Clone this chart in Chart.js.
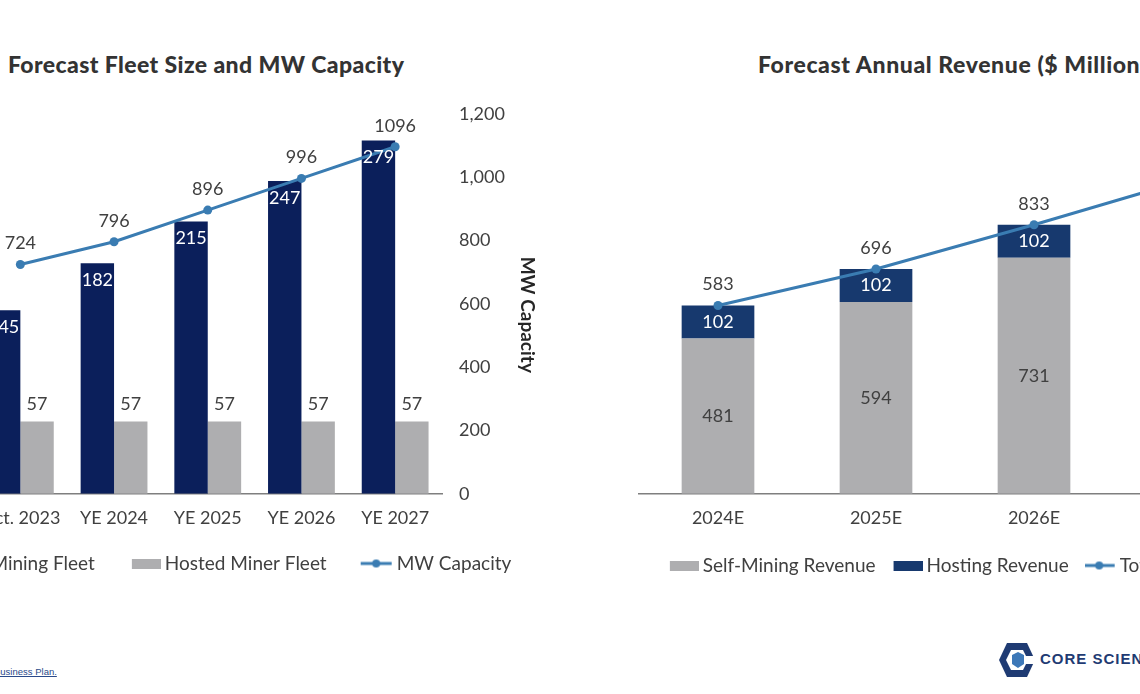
<!DOCTYPE html>
<html><head><meta charset="utf-8">
<script src="https://cdn.jsdelivr.net/npm/chart.js@4/dist/chart.umd.min.js"></script>
<style>
html,body{margin:0;padding:0;background:#fff;}
#stage{position:relative;width:1140px;height:694px;overflow:hidden;background:#fff;font-family:Lato,sans-serif;}
canvas{position:absolute;}
#c1{left:-226px;top:86px;}
#c2{left:620px;top:86px;}
.title{position:absolute;font-family:Lato,sans-serif;font-weight:900;font-size:23px;letter-spacing:0.4px;color:#333;white-space:nowrap;line-height:23px;}
#t1{left:8px;top:53px;}
#t2{left:758px;top:53px;letter-spacing:0.6px;}
#foot{position:absolute;left:-6px;top:666px;font-family:"Liberation Sans",Arial,sans-serif;font-size:9.5px;color:#2a4a8a;text-decoration:underline;white-space:nowrap;}
#logo{position:absolute;left:998px;top:642px;}
#logotext{position:absolute;left:1040px;top:650px;font-family:"Liberation Sans",Arial,sans-serif;font-weight:700;font-size:15px;letter-spacing:1px;color:#1f3b73;white-space:nowrap;line-height:18px;}
</style></head>
<body>
<div id="stage">
  <div class="title" id="t1">Forecast Fleet Size and MW Capacity</div>
  <div class="title" id="t2">Forecast Annual Revenue ($ Millions)</div>
  <canvas id="c1" width="868" height="497"></canvas>
  <canvas id="c2" width="670" height="499"></canvas>
  <div id="foot">Business Plan.</div>
  <svg id="logo" width="38" height="36" viewBox="0 0 38 36">
    <polygon points="9,1 29,1 37,18 29,35 9,35 1,18" fill="#1f3b73"/>
    <polygon points="13,8 25,8 30,18 25,28 13,28 8,18" fill="#fff"/>
    <rect x="27" y="14" width="11" height="8" fill="#fff"/>
    <polygon points="14,13 20,10 26,13 26,22 20,26 14,22" fill="#3d78b8"/>
  </svg>
  <div id="logotext">CORE SCIENTIFIC</div>
</div>
<script>
// ---------- data ----------
const fleetCategories = ['Oct. 2023', 'YE 2024', 'YE 2025', 'YE 2026', 'YE 2027'];
const selfMiningFleet = [145, 182, 215, 247, 279];
const hostedMinerFleet = [57, 57, 57, 57, 57];
const mwCapacity = [724, 796, 896, 996, 1096];

const revenueCategories = ['2024E', '2025E', '2026E', '2027E'];
const selfMiningRevenue = [481, 594, 731, 875];
const hostingRevenue = [102, 102, 102, 102];
const totalRevenue = [583, 696, 833, 977];

const mwTicks = [0, 200, 400, 600, 800, 1000, 1200];

// ---------- styles ----------
const NAVY_L = '#0b1f5b';
const NAVY_R = '#17396e';
const GRAY = '#aeaeb0';
const LINE = '#3a7cb2';
const TXT = '#404040';

Chart.defaults.font.family = 'Lato, sans-serif';
Chart.defaults.color = TXT;

// legend swatch: visible part sits at the right end of the image, next to the text
function swatch(kind, color, bw) {
  const W = bw + 11;
  const c = document.createElement('canvas');
  c.width = W; c.height = 10;
  const g = c.getContext('2d');
  if (kind === 'box') {
    g.fillStyle = color; g.fillRect(W - 29, 0, 29, 10);
  } else {
    g.strokeStyle = color; g.lineWidth = 3;
    g.beginPath(); g.moveTo(W - 32, 5); g.lineTo(W - 1, 5); g.stroke();
    g.fillStyle = color; g.beginPath(); g.arc(W - 16.5, 5, 4, 0, Math.PI * 2); g.fill();
  }
  return c;
}

const valueLabels = {
  id: 'valueLabels',
  afterDatasetsDraw(chart) {
    const ctx = chart.ctx;
    ctx.save();
    ctx.font = '18px Lato, sans-serif';
    ctx.textAlign = 'center';
    ctx.textBaseline = 'middle';
    chart.data.datasets.forEach((ds, i) => {
      const meta = chart.getDatasetMeta(i);
      if (meta.hidden || !ds.labelMode) return;
      meta.data.forEach((el, j) => {
        const v = ds.data[j];
        let y;
        if (ds.labelMode === 'insideTop') y = el.y + ds.labelOffset;
        else if (ds.labelMode === 'above') y = el.y - ds.labelOffset;
        else y = (el.y + el.base) / 2;
        ctx.fillStyle = ds.labelColor;
        ctx.fillText(String(v), el.x, y);
      });
    });
    ctx.restore();
  }
};

// vertical axis title drawn beside the right axis
const sideTitle = {
  id: 'sideTitle',
  afterDraw(chart, args, opts) {
    if (!opts || !opts.text) return;
    const a = chart.chartArea;
    const ctx = chart.ctx;
    ctx.save();
    ctx.translate(a.right + opts.dx, (a.top + a.bottom) / 2 + opts.dy);
    ctx.rotate(Math.PI / 2);
    ctx.font = opts.font;
    ctx.fillStyle = opts.color;
    ctx.textAlign = 'center';
    ctx.textBaseline = 'middle';
    ctx.fillText(opts.text, 0, 0);
    ctx.restore();
  }
};

function legendOpts(order, padding, bw) {
  return {
    position: 'bottom',
    labels: {
      usePointStyle: true,
      pointStyleWidth: bw,
      boxHeight: 10,
      padding: padding,
      font: { size: 19 },
      color: TXT,
      generateLabels: (chart) => order.map(i => {
        const ds = chart.data.datasets[i];
        return {
          text: ds.label,
          pointStyle: swatch(ds.legendKind, ds.legendColor, bw),
          datasetIndex: i,
          fontColor: TXT,
          lineWidth: 0,
          hidden: false
        };
      })
    }
  };
}

// ---------- left chart ----------
new Chart(document.getElementById('c1'), {
  type: 'bar',
  data: {
    labels: fleetCategories,
    datasets: [
      {
        type: 'line', label: 'MW Capacity', data: mwCapacity, yAxisID: 'y1',
        borderColor: LINE, backgroundColor: LINE, borderWidth: 3,
        pointRadius: 4.5, pointBackgroundColor: LINE, pointBorderWidth: 0,
        labelMode: 'above', labelOffset: 21, labelColor: TXT, legendKind: 'line', legendColor: LINE
      },
      {
        label: 'Self-Mining Fleet', data: selfMiningFleet, yAxisID: 'y',
        backgroundColor: NAVY_L, barPercentage: 1, categoryPercentage: 0.713,
        labelMode: 'insideTop', labelOffset: 17, labelColor: '#ffffff', legendKind: 'box', legendColor: NAVY_L
      },
      {
        label: 'Hosted Miner Fleet', data: hostedMinerFleet, yAxisID: 'y',
        backgroundColor: GRAY, barPercentage: 1, categoryPercentage: 0.713,
        labelMode: 'above', labelOffset: 17, labelColor: TXT, legendKind: 'box', legendColor: GRAY
      }
    ]
  },
  options: {
    responsive: false, animation: false,
    layout: { padding: { top: 24, bottom: 0, left: 0, right: 0 } },
    plugins: {
      legend: legendOpts([1, 2, 0], 22.5, 38),
      tooltip: { enabled: false },
      sideTitle: { text: 'MW Capacity', dx: 85, dy: 11, font: 'bold 19px Lato, sans-serif', color: '#262626' }
    },
    scales: {
      x: {
        grid: { display: false, drawTicks: false },
        border: { display: true, color: '#7f7f7f', width: 1.5 },
        ticks: { font: { size: 18 }, color: TXT, padding: 14, maxRotation: 0 },
        afterFit: (s) => { s.height = 37.7; }
      },
      y: {
        position: 'left', min: 0, max: 300,
        grid: { display: false, drawTicks: false }, border: { display: false },
        ticks: { display: false },
        afterFit: (s) => { s.width = 199.5; }
      },
      y1: {
        position: 'right', min: 0, max: 1200,
        grid: { display: false, drawTicks: false }, border: { display: false },
        afterBuildTicks: (s) => { s.ticks = mwTicks.map(v => ({ value: v })); },
        ticks: { font: { size: 18 }, color: TXT, padding: 17, callback: (v) => Number(v).toLocaleString('en-US') },
        afterFit: (s) => { s.width = 200; }
      }
    }
  },
  plugins: [valueLabels, sideTitle]
});

// ---------- right chart ----------
new Chart(document.getElementById('c2'), {
  type: 'bar',
  data: {
    labels: revenueCategories,
    datasets: [
      {
        type: 'line', label: 'Total Revenue', data: totalRevenue, stack: 'total',
        borderColor: LINE, backgroundColor: LINE, borderWidth: 3,
        pointRadius: 4.5, pointBackgroundColor: LINE, pointBorderWidth: 0,
        labelMode: 'above', labelOffset: 21, labelColor: TXT, legendKind: 'line', legendColor: LINE
      },
      {
        label: 'Self-Mining Revenue', data: selfMiningRevenue, stack: 'rev',
        backgroundColor: GRAY, barPercentage: 1, categoryPercentage: 0.46,
        labelMode: 'center', labelColor: TXT, legendKind: 'box', legendColor: GRAY
      },
      {
        label: 'Hosting Revenue', data: hostingRevenue, stack: 'rev',
        backgroundColor: NAVY_R, barPercentage: 1, categoryPercentage: 0.46,
        labelMode: 'center', labelColor: '#ffffff', legendKind: 'box', legendColor: NAVY_R
      }
    ]
  },
  options: {
    responsive: false, animation: false,
    layout: { padding: { top: 20.2, bottom: 0, left: 19, right: 19 } },
    plugins: { legend: legendOpts([1, 2, 0], 21.5, 20), tooltip: { enabled: false } },
    scales: {
      x: {
        stacked: true,
        grid: { display: false, drawTicks: false },
        border: { display: true, color: '#7f7f7f', width: 1.5 },
        ticks: { font: { size: 18 }, color: TXT, padding: 14, maxRotation: 0 },
        afterFit: (s) => { s.height = 40.7; }
      },
      y: { display: false, stacked: true, min: 0, max: 1200 }
    }
  },
  plugins: [valueLabels]
});
</script>
</body></html>
